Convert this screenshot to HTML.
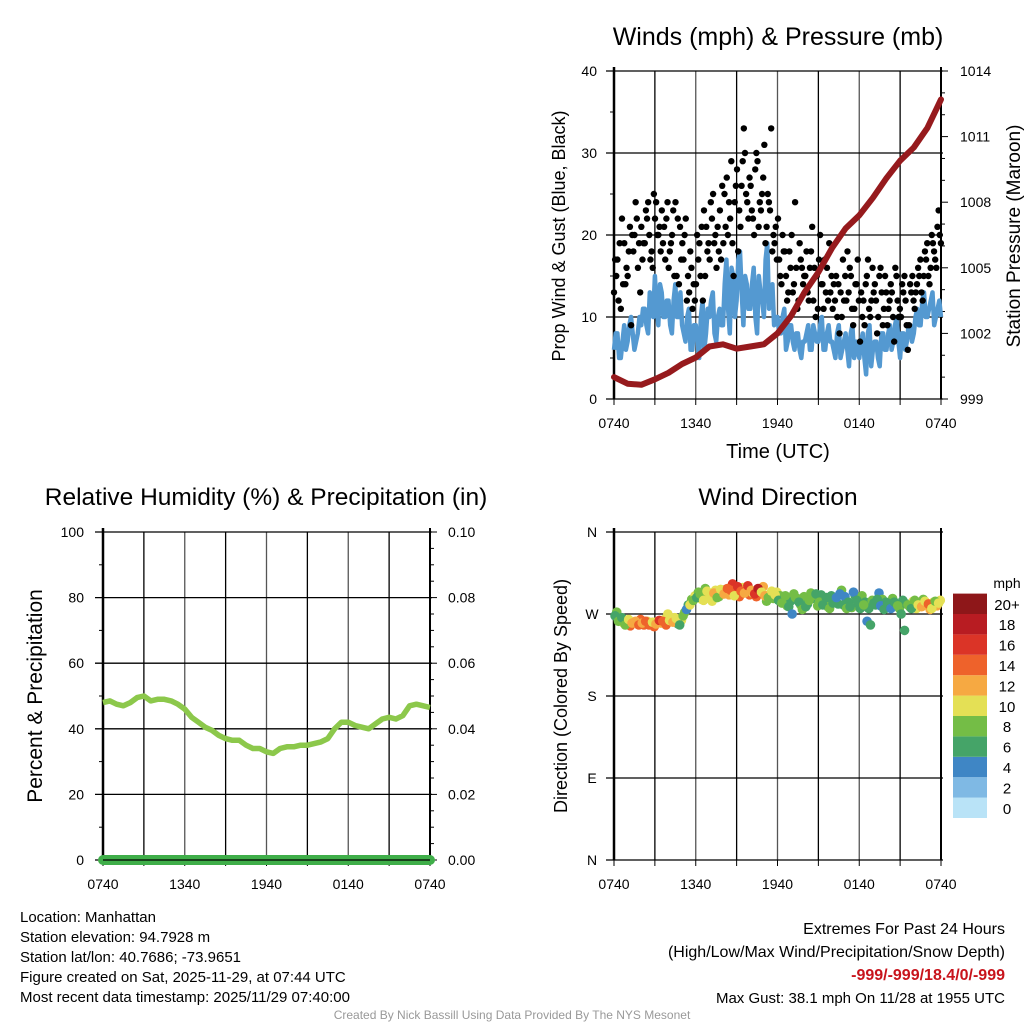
<!DOCTYPE html>
<html><head><meta charset="utf-8"><style>
body{margin:0;background:#fff;width:1024px;height:1024px;overflow:hidden}
svg{display:block;font-family:"Liberation Sans",sans-serif}
</style></head><body>
<svg id="s" width="1024" height="1024" xmlns="http://www.w3.org/2000/svg">
<g id="g"></g>
</svg>
<script>
// ---- data ----
const timeLabels=["0740","1340","1940","0140","0740"];
const windSpeed=[6,8,5,9,7,10,6,8, 9,11,8,12,15,9,13,10, 12,8,14,10,9,7,11,6, 9,5,12,8,10,13,7,11, 9,17,8,15,12,18,9,14, 11,16,8,13,10,19,12,9, 10,8,11,7,9,6,8,5, 7,9,6,8,7,10,6,9, 7,5,9,6,8,4,9,7, 5,8,3,9,6,7,4,8, 6,9,7,10,5,8,7,9, 8,11,9,13,10,12,9,11,10];
const windSpeed2=[8,5,7,6,9,8,7,10, 11,9,13,10,11,14,10,12, 9,12,10,13,8,10,6,9, 7,10,6,11,12,8,10,9, 14,11,16,10,17,13,15,11, 14,10,15,12,17,11,14,10, 8,10,6,9,7,8,6,7, 8,6,9,7,9,6,8,7, 6,8,5,7,6,8,5,6, 7,5,8,4,7,5,8,6, 8,6,9,7,8,6,9,7, 10,9,12,10,11,13,10,12];
const windGust=[13,17,11,19,15,9,20,16, 21,19,24,18,22,20,23,17, 16,20,24,14,19,22,13,11, 14,19,12,21,17,25,16,23, 19,27,22,15,28,21,33,24, 26,20,29,23,31,25,33,19, 22,14,18,13,20,24,12,16, 15,12,21,10,17,14,13,19, 11,15,8,17,12,16,9,14, 7,12,15,10,13,8,16,11, 9,14,7,12,10,15,6,13, 11,16,13,18,15,20,17,23];
const windGust2=[17,12,22,14,18,20,24,19, 17,23,20,16,24,21,19,22, 18,23,15,21,17,12,18,14, 20,15,23,18,24,19,21,17, 25,20,29,24,18,26,30,22, 23,28,21,25,19,24,18,21, 17,20,15,18,13,16,19,14, 18,16,12,15,20,11,16,13, 14,10,13,12,18,15,11,17, 13,9,17,12,14,10,13,15, 11,13,16,10,14,12,9,15, 13,15,12,17,14,19,16,20];
const windGust3=[15,19,14,16,21,18,22,13, 19,22,17,25,20,18,21,24, 19,15,22,17,20,15,16,12, 17,21,15,19,22,20,18,26, 21,24,19,26,23,29,25,27, 22,30,24,27,21,23,20,17, 15,18,12,16,14,11,17,15, 13,18,16,11,14,17,12,15, 12,14,10,15,13,11,14,12, 10,14,11,16,12,15,9,13, 12,10,15,11,13,9,14,12, 14,17,15,19,16,18,21,19];
const pressure=[1000.0,999.7,999.65,999.9,1000.2,1000.6,1000.9,1001.4,1001.5,1001.3,1001.4,1001.5,1002.0,1002.8,1003.9,1004.8,1005.9,1006.8,1007.4,1008.2,1009.1,1009.9,1010.5,1011.4,1012.7];
const rh=[48,48.5,47.5,47,48,49.5,50,48.5,49,49,48.5,47.5,46,43.5,42,40.5,39.5,38,37,36.5,36.5,35,34,34,33,32.5,34,34.5,34.5,35,35,35.5,36,37,40,42,42,41,40.5,40,41.5,43,43.5,43,44,47,47.5,47,46.5];
const precip=[0,0,0,0,0,0,0,0,0,0,0,0,0,0,0,0,0,0,0,0,0,0,0,0,0];
const dirDeg=[268,262,266,258,264,260,262,258, 260,262,258,261,259,263,262,258, 263,261,265,258,268,275,280,285, 288,292,285,295,290,293,288,297, 292,298,296,290,300,295,293,301, 296,292,298,294,290,288,295,291, 285,282,290,278,270,288,283,275, 278,285,290,292,283,280,288,276, 282,288,292,280,276,278,294,285, 276,280,262,258,282,286,279,275, 282,276,283,279,270,252,280,276, 285,280,278,284,281,276,284,282];
const dirSpeed=[6,8,5,7,10,12,11,13, 12,13,14,10,11,15,13,14, 10,12,9,6,8,4,10,8, 6,8,10,9,10,12,7,10, 11,14,13,10,16,14,12,15, 12,16,18,10,11,8,9,10, 6,8,7,6,4,8,6,8, 6,7,8,6,7,5,6,8, 6,4,3,6,8,5,4,6, 6,7,4,6,6,5,4,6, 6,4,6,7,5,6,8,6, 8,10,12,10,14,9,8,10];
const dirDeg2=[272,265,260,263,257,261,259,264, 258,262,260,256,262,260,264,270, 262,266,259,263,272,280,286,290, 294,286,298,291,284,296,289,292, 297,291,303,294,289,299,296,291, 293,289,296,300,284,292,287,294, 290,286,279,284,292,287,280,289, 281,293,287,279,291,284,278,290, 286,281,296,289,283,277,290,281, 290,283,276,285,280,293,286,283, 279,287,281,276,285,281,278,284, 276,283,286,280,275,283,279,285];
const dirSpeed2=[8,6,9,12,13,11,12,14, 13,10,12,14,11,12,10,9, 8,10,6,9,7,5,8,9, 7,10,8,11,9,10,8,12, 13,12,15,11,13,10,12,14, 10,13,9,12,8,10,7,9, 7,6,8,5,7,6,8,7, 6,8,6,7,5,8,7,6, 5,6,8,4,6,7,5,6, 7,5,6,8,6,4,7,6, 5,7,6,8,6,5,7,9, 9,11,8,10,12,9,11,10];
const legendLabels=["0","2","4","6","8","10","12","14","16","18","20+"];
const legendColors=["#b9e3f7","#7fb9e4","#3f86c5","#45a468","#74bd46","#e4e055","#f6a942","#ee622b","#db3427","#b81c22","#8e1719"];

const NS="http://www.w3.org/2000/svg";
const G=document.getElementById('g');
function el(t,a,p){const e=document.createElementNS(NS,t);for(const k in a)e.setAttribute(k,a[k]);(p||G).appendChild(e);return e;}
function txt(x,y,s,size,anchor,extra){const e=el('text',Object.assign({x:x,y:y,'font-size':size,'text-anchor':anchor||'middle',fill:'#000'},extra||{}));e.textContent=s;return e;}

function frame(x0,y0,x1,y1,name,hlines){
  const g=el('g',{});
  
  
  for(let i=0;i<=8;i++){const x=x0+(x1-x0)*i/8;el('line',{x1:x,y1:y0,x2:x,y2:y1,stroke:i%2?'#000':'#555','stroke-width':1.3},g);
    el('line',{x1:x,y1:y1,x2:x,y2:y1+6,stroke:'#000','stroke-width':1},g);}
  hlines.forEach(y=>el('line',{x1:x0-8,y1:y,x2:x1+2,y2:y,stroke:'#000','stroke-width':1.3},g));
  el('line',{x1:x0,y1:y0-4,x2:x0,y2:y1,stroke:'#000','stroke-width':2.5},g);
  el('line',{x1:x1,y1:y0-4,x2:x1,y2:y1,stroke:'#000','stroke-width':2},g);
  timeLabels.forEach((l,i)=>{const t=txt(x0+(x1-x0)*i/4,y1+29,l,14);});
}

// ===== Winds chart =====
(function(){
  const x0=614,x1=941,y0=71,y1=399;
  const wy=v=>y1-(v/40)*(y1-y0);
  const py=p=>y1-((p-999)/15)*(y1-y0);
  const tx=(i,n)=>x0+(x1-x0)*i/(n-1);
  const t=txt(778,45,'Winds (mph) & Pressure (mb)',25);
  
  frame(x0,y0,x1,y1,'winds',[0,10,20,30,40].map(wy));
  [5,15,25,35].forEach(v=>el('line',{x1:x0-4,y1:wy(v),x2:x0,y2:wy(v),stroke:'#000'}));
  [0,10,20,30,40].forEach(v=>{const e=txt(597,wy(v)+5,String(v),14,'end');});
  for(let p=999;p<=1014;p++){el('line',{x1:x1,y1:py(p),x2:x1+(p%3==0?7:4),y2:py(p),stroke:'#000'});}
  for(let p=999;p<=1014;p+=3){const e=txt(960,py(p)+5,String(p),14,'start');}
  // sustained wind (two interleaved 15-min samples)
  const n=windSpeed.length+windSpeed2.length;
  let d='';let k=0;
  for(let i=0;i<windSpeed.length;i++){
    d+=(k?'L':'M')+tx(k,n).toFixed(1)+' '+wy(windSpeed[i]).toFixed(1);k++;
    if(i<windSpeed2.length){d+='L'+tx(k,n).toFixed(1)+' '+wy(windSpeed2[i]).toFixed(1);k++;}
  }
  const ws=el('path',{d:d,fill:'none',stroke:'#5499d1','stroke-width':4.5,'stroke-linejoin':'round'});
  
  // gusts
  const gg=el('g',{});
  [windGust,windGust2,windGust3].forEach((arr,j)=>{
    arr.forEach((v,i)=>{const c=el('circle',{cx:tx(i+j/3,arr.length+0.7),cy:wy(v),r:3.2,fill:'#000'},gg);});
  });
  // pressure
  d='';pressure.forEach((p,i)=>{d+=(i?'L':'M')+tx(i,pressure.length).toFixed(1)+' '+py(p).toFixed(1);});
  const pl=el('path',{d:d,fill:'none',stroke:'#961a1d','stroke-width':6,'stroke-linejoin':'round','stroke-linecap':'round'});
  
  let a=txt(778,458,'Time (UTC)',20);
  a=txt(0,0,'Prop Wind & Gust (Blue, Black)',18,'middle',{transform:'translate(565,236) rotate(-90)'});
  a=txt(0,0,'Station Pressure (Maroon)',19,'middle',{transform:'translate(1020,236) rotate(-90)'});
})();

// ===== RH chart =====
(function(){
  const x0=103,x1=430,y0=532,y1=860;
  const ry=v=>y1-(v/100)*(y1-y0);
  const tx=(i,n)=>x0+(x1-x0)*i/(n-1);
  const t=txt(266,505,'Relative Humidity (%) & Precipitation (in)',24.5);
  
  frame(x0,y0,x1,y1,'rh',[0,20,40,60,80,100].map(ry));
  [10,30,50,70,90].forEach(v=>el('line',{x1:x0-4,y1:ry(v),x2:x0,y2:ry(v),stroke:'#000'}));
  for(let v=0;v<=100;v+=5)el('line',{x1:x1,y1:ry(v),x2:x1+(v%20==0?7:4),y2:ry(v),stroke:'#000'});
  [0,20,40,60,80,100].forEach(v=>{const e=txt(84,ry(v)+5,String(v),14,'end');
    const r=txt(448,ry(v)+5,(v/1000).toFixed(2),14,'start');});
  let d='';rh.forEach((v,i)=>{d+=(i?'L':'M')+tx(i,rh.length).toFixed(1)+' '+ry(v).toFixed(1);});
  const l=el('path',{d:d,fill:'none',stroke:'#8cc84b','stroke-width':5.5,'stroke-linejoin':'round'});
  
  d='';precip.forEach((v,i)=>{d+=(i?'L':'M')+tx(i,precip.length).toFixed(1)+' '+ry(v*1000).toFixed(1);});
  const p=el('path',{d:d,fill:'none',stroke:'#3fae49','stroke-width':10,'stroke-linecap':'round'});
  
  el('line',{x1:x0,y1:y1,x2:x1,y2:y1,stroke:'#000','stroke-width':1.3});
  const a=txt(0,0,'Percent & Precipitation',21,'middle',{transform:'translate(42,696) rotate(-90)'});
})();

// ===== Wind direction chart =====
(function(){
  const x0=614,x1=941,y0=532,y1=860;
  const dy=v=>y1-(v/360)*(y1-y0);
  const tx=(i,n)=>x0+(x1-x0)*(i+0.3)/(n);
  const t=txt(778,505,'Wind Direction',24.5);
  
  frame(x0,y0,x1,y1,'direction',[0,90,180,270,360].map(dy));
  ['N','E','S','W','N'].forEach((l,i)=>{const e=txt(592,dy(i*90)+5,l,14,'middle');});
  const col=s=>legendColors[Math.min(10,Math.round(s/2))];
  const gg=el('g',{});
  dirDeg2.forEach((v,i)=>{const c=el('circle',{cx:tx(i+0.5,dirDeg2.length),cy:dy(v),r:4.8,fill:col(dirSpeed2[i])},gg);});
  dirDeg.forEach((v,i)=>{const c=el('circle',{cx:tx(i,dirDeg.length),cy:dy(v),r:4.8,fill:col(dirSpeed[i])},gg);});
  const a=txt(0,0,'Direction (Colored By Speed)',18,'middle',{transform:'translate(567,696) rotate(-90)'});
  // legend
  const lg=el('g',{});
  const h=20.4;
  legendColors.forEach((c,i)=>{const y=818-(i+1)*h;el('rect',{x:953,y:y,width:34,height:h,fill:c},lg);
    const e=txt(1007,y+h/2+6,legendLabels[i],15,'middle',{},lg);});
  const u=txt(1007,588,'mph',14,'middle');
})();

// ===== text blocks =====
const info=["Location: Manhattan","Station elevation: 94.7928 m","Station lat/lon: 40.7686; -73.9651","Figure created on Sat, 2025-11-29, at 07:44 UTC","Most recent data timestamp: 2025/11/29 07:40:00"];
info.forEach((s,i)=>{const e=txt(20,922+i*20,s,15,'start');});
let e=txt(1005,934,'Extremes For Past 24 Hours',16,'end');
e=txt(1005,957,'(High/Low/Max Wind/Precipitation/Snow Depth)',16,'end');
e=txt(1005,980,'-999/-999/18.4/0/-999',16,'end',{fill:'#c8141c','font-weight':'bold'});
e=txt(1005,1003,'Max Gust: 38.1 mph On 11/28 at 1955 UTC',15,'end');
e=txt(512,1019,'Created By Nick Bassill Using Data Provided By The NYS Mesonet',12,'middle',{fill:'#999'});
</script>
</body></html>
